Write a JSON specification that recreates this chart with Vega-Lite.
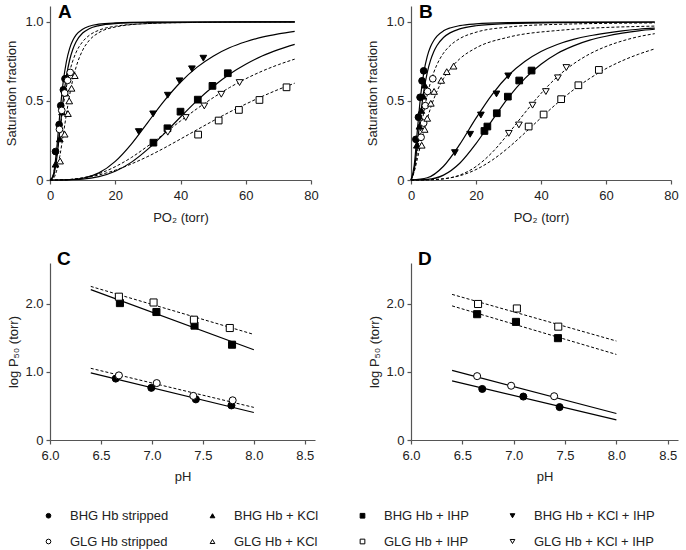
{
  "$schema": "https://vega.github.io/schema/vega-lite/v6.json",
  "padding": {"left": 5, "top": 3, "right": 5, "bottom": 0},
  "background": "white",
  "datasets": {
    "curves": [
      {"p":"A","s":"BHG Hb stripped","x":0,"y":0},{"p":"A","s":"BHG Hb stripped","x":1,"y":0.031},{"p":"A","s":"BHG Hb stripped","x":2,"y":0.185},{"p":"A","s":"BHG Hb stripped","x":3,"y":0.413},{"p":"A","s":"BHG Hb stripped","x":4,"y":0.612},{"p":"A","s":"BHG Hb stripped","x":5,"y":0.746},{"p":"A","s":"BHG Hb stripped","x":6,"y":0.831},{"p":"A","s":"BHG Hb stripped","x":7,"y":0.883},{"p":"A","s":"BHG Hb stripped","x":8,"y":0.917},{"p":"A","s":"BHG Hb stripped","x":10,"y":0.953},{"p":"A","s":"BHG Hb stripped","x":12,"y":0.972},{"p":"A","s":"BHG Hb stripped","x":15,"y":0.985},{"p":"A","s":"BHG Hb stripped","x":20,"y":0.993},{"p":"A","s":"BHG Hb stripped","x":30,"y":0.998},{"p":"A","s":"BHG Hb stripped","x":45,"y":0.999},{"p":"A","s":"BHG Hb stripped","x":75,"y":1.0},
      {"p":"A","s":"BHG Hb + KCl","x":0,"y":0},{"p":"A","s":"BHG Hb + KCl","x":1,"y":0.020},{"p":"A","s":"BHG Hb + KCl","x":2,"y":0.126},{"p":"A","s":"BHG Hb + KCl","x":3,"y":0.309},{"p":"A","s":"BHG Hb + KCl","x":4,"y":0.5},{"p":"A","s":"BHG Hb + KCl","x":5,"y":0.651},{"p":"A","s":"BHG Hb + KCl","x":6,"y":0.757},{"p":"A","s":"BHG Hb + KCl","x":7,"y":0.827},{"p":"A","s":"BHG Hb + KCl","x":8,"y":0.874},{"p":"A","s":"BHG Hb + KCl","x":10,"y":0.929},{"p":"A","s":"BHG Hb + KCl","x":12,"y":0.956},{"p":"A","s":"BHG Hb + KCl","x":15,"y":0.976},{"p":"A","s":"BHG Hb + KCl","x":20,"y":0.989},{"p":"A","s":"BHG Hb + KCl","x":30,"y":0.996},{"p":"A","s":"BHG Hb + KCl","x":45,"y":0.999},{"p":"A","s":"BHG Hb + KCl","x":75,"y":1.0},
      {"p":"A","s":"GLG Hb stripped","x":0,"y":0},{"p":"A","s":"GLG Hb stripped","x":1,"y":0.034},{"p":"A","s":"GLG Hb stripped","x":2,"y":0.147},{"p":"A","s":"GLG Hb stripped","x":3,"y":0.304},{"p":"A","s":"GLG Hb stripped","x":4,"y":0.459},{"p":"A","s":"GLG Hb stripped","x":5,"y":0.586},{"p":"A","s":"GLG Hb stripped","x":6,"y":0.683},{"p":"A","s":"GLG Hb stripped","x":7,"y":0.754},{"p":"A","s":"GLG Hb stripped","x":8,"y":0.807},{"p":"A","s":"GLG Hb stripped","x":10,"y":0.874},{"p":"A","s":"GLG Hb stripped","x":12,"y":0.914},{"p":"A","s":"GLG Hb stripped","x":15,"y":0.947},{"p":"A","s":"GLG Hb stripped","x":20,"y":0.972},{"p":"A","s":"GLG Hb stripped","x":30,"y":0.989},{"p":"A","s":"GLG Hb stripped","x":45,"y":0.996},{"p":"A","s":"GLG Hb stripped","x":75,"y":0.999},
      {"p":"A","s":"GLG Hb + KCl","x":0,"y":0},{"p":"A","s":"GLG Hb + KCl","x":1,"y":0.009},{"p":"A","s":"GLG Hb + KCl","x":2,"y":0.056},{"p":"A","s":"GLG Hb + KCl","x":3,"y":0.150},{"p":"A","s":"GLG Hb + KCl","x":4,"y":0.278},{"p":"A","s":"GLG Hb + KCl","x":5,"y":0.412},{"p":"A","s":"GLG Hb + KCl","x":6,"y":0.535},{"p":"A","s":"GLG Hb + KCl","x":7,"y":0.635},{"p":"A","s":"GLG Hb + KCl","x":8,"y":0.714},{"p":"A","s":"GLG Hb + KCl","x":10,"y":0.820},{"p":"A","s":"GLG Hb + KCl","x":12,"y":0.882},{"p":"A","s":"GLG Hb + KCl","x":15,"y":0.932},{"p":"A","s":"GLG Hb + KCl","x":20,"y":0.967},{"p":"A","s":"GLG Hb + KCl","x":30,"y":0.989},{"p":"A","s":"GLG Hb + KCl","x":45,"y":0.996},{"p":"A","s":"GLG Hb + KCl","x":75,"y":0.999},
      {"p":"A","s":"BHG Hb + KCl + IHP","x":0,"y":0},{"p":"A","s":"BHG Hb + KCl + IHP","x":5,"y":0.001},{"p":"A","s":"BHG Hb + KCl + IHP","x":10,"y":0.011},{"p":"A","s":"BHG Hb + KCl + IHP","x":15,"y":0.045},{"p":"A","s":"BHG Hb + KCl + IHP","x":20,"y":0.118},{"p":"A","s":"BHG Hb + KCl + IHP","x":25,"y":0.229},{"p":"A","s":"BHG Hb + KCl + IHP","x":30,"y":0.365},{"p":"A","s":"BHG Hb + KCl + IHP","x":35,"y":0.5},{"p":"A","s":"BHG Hb + KCl + IHP","x":40,"y":0.618},{"p":"A","s":"BHG Hb + KCl + IHP","x":45,"y":0.712},{"p":"A","s":"BHG Hb + KCl + IHP","x":50,"y":0.783},{"p":"A","s":"BHG Hb + KCl + IHP","x":55,"y":0.836},{"p":"A","s":"BHG Hb + KCl + IHP","x":60,"y":0.874},{"p":"A","s":"BHG Hb + KCl + IHP","x":65,"y":0.903},{"p":"A","s":"BHG Hb + KCl + IHP","x":70,"y":0.924},{"p":"A","s":"BHG Hb + KCl + IHP","x":75,"y":0.940},
      {"p":"A","s":"BHG Hb + IHP","x":0,"y":0},{"p":"A","s":"BHG Hb + IHP","x":5,"y":0.001},{"p":"A","s":"BHG Hb + IHP","x":10,"y":0.005},{"p":"A","s":"BHG Hb + IHP","x":15,"y":0.021},{"p":"A","s":"BHG Hb + IHP","x":20,"y":0.055},{"p":"A","s":"BHG Hb + IHP","x":25,"y":0.113},{"p":"A","s":"BHG Hb + IHP","x":30,"y":0.195},{"p":"A","s":"BHG Hb + IHP","x":35,"y":0.293},{"p":"A","s":"BHG Hb + IHP","x":40,"y":0.398},{"p":"A","s":"BHG Hb + IHP","x":45,"y":0.5},{"p":"A","s":"BHG Hb + IHP","x":50,"y":0.591},{"p":"A","s":"BHG Hb + IHP","x":55,"y":0.669},{"p":"A","s":"BHG Hb + IHP","x":60,"y":0.732},{"p":"A","s":"BHG Hb + IHP","x":65,"y":0.784},{"p":"A","s":"BHG Hb + IHP","x":70,"y":0.824},{"p":"A","s":"BHG Hb + IHP","x":75,"y":0.857},
      {"p":"A","s":"GLG Hb + KCl + IHP","x":0,"y":0},{"p":"A","s":"GLG Hb + KCl + IHP","x":5,"y":0.002},{"p":"A","s":"GLG Hb + KCl + IHP","x":10,"y":0.014},{"p":"A","s":"GLG Hb + KCl + IHP","x":15,"y":0.040},{"p":"A","s":"GLG Hb + KCl + IHP","x":20,"y":0.084},{"p":"A","s":"GLG Hb + KCl + IHP","x":25,"y":0.143},{"p":"A","s":"GLG Hb + KCl + IHP","x":30,"y":0.215},{"p":"A","s":"GLG Hb + KCl + IHP","x":35,"y":0.293},{"p":"A","s":"GLG Hb + KCl + IHP","x":40,"y":0.373},{"p":"A","s":"GLG Hb + KCl + IHP","x":45,"y":0.450},{"p":"A","s":"GLG Hb + KCl + IHP","x":50,"y":0.520},{"p":"A","s":"GLG Hb + KCl + IHP","x":55,"y":0.584},{"p":"A","s":"GLG Hb + KCl + IHP","x":60,"y":0.640},{"p":"A","s":"GLG Hb + KCl + IHP","x":65,"y":0.688},{"p":"A","s":"GLG Hb + KCl + IHP","x":70,"y":0.729},{"p":"A","s":"GLG Hb + KCl + IHP","x":75,"y":0.764},
      {"p":"A","s":"GLG Hb + IHP","x":0,"y":0},{"p":"A","s":"GLG Hb + IHP","x":5,"y":0.002},{"p":"A","s":"GLG Hb + IHP","x":10,"y":0.012},{"p":"A","s":"GLG Hb + IHP","x":15,"y":0.032},{"p":"A","s":"GLG Hb + IHP","x":20,"y":0.062},{"p":"A","s":"GLG Hb + IHP","x":25,"y":0.102},{"p":"A","s":"GLG Hb + IHP","x":30,"y":0.149},{"p":"A","s":"GLG Hb + IHP","x":35,"y":0.202},{"p":"A","s":"GLG Hb + IHP","x":40,"y":0.259},{"p":"A","s":"GLG Hb + IHP","x":45,"y":0.317},{"p":"A","s":"GLG Hb + IHP","x":50,"y":0.374},{"p":"A","s":"GLG Hb + IHP","x":55,"y":0.429},{"p":"A","s":"GLG Hb + IHP","x":60,"y":0.480},{"p":"A","s":"GLG Hb + IHP","x":65,"y":0.528},{"p":"A","s":"GLG Hb + IHP","x":70,"y":0.572},{"p":"A","s":"GLG Hb + IHP","x":75,"y":0.612},
      {"p":"B","s":"BHG Hb stripped","x":0,"y":0},{"p":"B","s":"BHG Hb stripped","x":1,"y":0.094},{"p":"B","s":"BHG Hb stripped","x":2,"y":0.323},{"p":"B","s":"BHG Hb stripped","x":3,"y":0.538},{"p":"B","s":"BHG Hb stripped","x":4,"y":0.687},{"p":"B","s":"BHG Hb stripped","x":5,"y":0.782},{"p":"B","s":"BHG Hb stripped","x":6,"y":0.842},{"p":"B","s":"BHG Hb stripped","x":7,"y":0.882},{"p":"B","s":"BHG Hb stripped","x":8,"y":0.910},{"p":"B","s":"BHG Hb stripped","x":10,"y":0.943},{"p":"B","s":"BHG Hb stripped","x":12,"y":0.961},{"p":"B","s":"BHG Hb stripped","x":15,"y":0.976},{"p":"B","s":"BHG Hb stripped","x":20,"y":0.987},{"p":"B","s":"BHG Hb stripped","x":30,"y":0.995},{"p":"B","s":"BHG Hb stripped","x":45,"y":0.998},{"p":"B","s":"BHG Hb stripped","x":75,"y":0.999},
      {"p":"B","s":"BHG Hb + KCl","x":0,"y":0},{"p":"B","s":"BHG Hb + KCl","x":1,"y":0.067},{"p":"B","s":"BHG Hb + KCl","x":2,"y":0.236},{"p":"B","s":"BHG Hb + KCl","x":3,"y":0.420},{"p":"B","s":"BHG Hb + KCl","x":4,"y":0.570},{"p":"B","s":"BHG Hb + KCl","x":5,"y":0.679},{"p":"B","s":"BHG Hb + KCl","x":6,"y":0.756},{"p":"B","s":"BHG Hb + KCl","x":7,"y":0.811},{"p":"B","s":"BHG Hb + KCl","x":8,"y":0.850},{"p":"B","s":"BHG Hb + KCl","x":10,"y":0.901},{"p":"B","s":"BHG Hb + KCl","x":12,"y":0.930},{"p":"B","s":"BHG Hb + KCl","x":15,"y":0.955},{"p":"B","s":"BHG Hb + KCl","x":20,"y":0.975},{"p":"B","s":"BHG Hb + KCl","x":30,"y":0.989},{"p":"B","s":"BHG Hb + KCl","x":45,"y":0.995},{"p":"B","s":"BHG Hb + KCl","x":75,"y":0.998},
      {"p":"B","s":"GLG Hb stripped","x":0,"y":0},{"p":"B","s":"GLG Hb stripped","x":1,"y":0.060},{"p":"B","s":"GLG Hb stripped","x":2,"y":0.182},{"p":"B","s":"GLG Hb stripped","x":3,"y":0.317},{"p":"B","s":"GLG Hb stripped","x":4,"y":0.437},{"p":"B","s":"GLG Hb stripped","x":5,"y":0.537},{"p":"B","s":"GLG Hb stripped","x":6,"y":0.617},{"p":"B","s":"GLG Hb stripped","x":7,"y":0.680},{"p":"B","s":"GLG Hb stripped","x":8,"y":0.730},{"p":"B","s":"GLG Hb stripped","x":10,"y":0.802},{"p":"B","s":"GLG Hb stripped","x":12,"y":0.849},{"p":"B","s":"GLG Hb stripped","x":15,"y":0.894},{"p":"B","s":"GLG Hb stripped","x":20,"y":0.934},{"p":"B","s":"GLG Hb stripped","x":30,"y":0.967},{"p":"B","s":"GLG Hb stripped","x":45,"y":0.984},{"p":"B","s":"GLG Hb stripped","x":75,"y":0.993},
      {"p":"B","s":"GLG Hb + KCl","x":0,"y":0},{"p":"B","s":"GLG Hb + KCl","x":1,"y":0.053},{"p":"B","s":"GLG Hb + KCl","x":2,"y":0.138},{"p":"B","s":"GLG Hb + KCl","x":3,"y":0.227},{"p":"B","s":"GLG Hb + KCl","x":4,"y":0.311},{"p":"B","s":"GLG Hb + KCl","x":5,"y":0.387},{"p":"B","s":"GLG Hb + KCl","x":6,"y":0.453},{"p":"B","s":"GLG Hb + KCl","x":7,"y":0.511},{"p":"B","s":"GLG Hb + KCl","x":8,"y":0.561},{"p":"B","s":"GLG Hb + KCl","x":10,"y":0.641},{"p":"B","s":"GLG Hb + KCl","x":12,"y":0.701},{"p":"B","s":"GLG Hb + KCl","x":15,"y":0.766},{"p":"B","s":"GLG Hb + KCl","x":20,"y":0.835},{"p":"B","s":"GLG Hb + KCl","x":30,"y":0.903},{"p":"B","s":"GLG Hb + KCl","x":45,"y":0.945},{"p":"B","s":"GLG Hb + KCl","x":75,"y":0.973},
      {"p":"B","s":"BHG Hb + KCl + IHP","x":0,"y":0},{"p":"B","s":"BHG Hb + KCl + IHP","x":5,"y":0.014},{"p":"B","s":"BHG Hb + KCl + IHP","x":10,"y":0.087},{"p":"B","s":"BHG Hb + KCl + IHP","x":15,"y":0.225},{"p":"B","s":"BHG Hb + KCl + IHP","x":20,"y":0.391},{"p":"B","s":"BHG Hb + KCl + IHP","x":25,"y":0.542},{"p":"B","s":"BHG Hb + KCl + IHP","x":30,"y":0.662},{"p":"B","s":"BHG Hb + KCl + IHP","x":35,"y":0.749},{"p":"B","s":"BHG Hb + KCl + IHP","x":40,"y":0.812},{"p":"B","s":"BHG Hb + KCl + IHP","x":45,"y":0.857},{"p":"B","s":"BHG Hb + KCl + IHP","x":50,"y":0.889},{"p":"B","s":"BHG Hb + KCl + IHP","x":55,"y":0.912},{"p":"B","s":"BHG Hb + KCl + IHP","x":60,"y":0.929},{"p":"B","s":"BHG Hb + KCl + IHP","x":65,"y":0.943},{"p":"B","s":"BHG Hb + KCl + IHP","x":70,"y":0.953},{"p":"B","s":"BHG Hb + KCl + IHP","x":75,"y":0.960},
      {"p":"B","s":"BHG Hb + IHP","x":0,"y":0},{"p":"B","s":"BHG Hb + IHP","x":5,"y":0.004},{"p":"B","s":"BHG Hb + IHP","x":10,"y":0.031},{"p":"B","s":"BHG Hb + IHP","x":15,"y":0.106},{"p":"B","s":"BHG Hb + IHP","x":20,"y":0.230},{"p":"B","s":"BHG Hb + IHP","x":25,"y":0.378},{"p":"B","s":"BHG Hb + IHP","x":30,"y":0.522},{"p":"B","s":"BHG Hb + IHP","x":35,"y":0.641},{"p":"B","s":"BHG Hb + IHP","x":40,"y":0.732},{"p":"B","s":"BHG Hb + IHP","x":45,"y":0.800},{"p":"B","s":"BHG Hb + IHP","x":50,"y":0.848},{"p":"B","s":"BHG Hb + IHP","x":55,"y":0.884},{"p":"B","s":"BHG Hb + IHP","x":60,"y":0.909},{"p":"B","s":"BHG Hb + IHP","x":65,"y":0.928},{"p":"B","s":"BHG Hb + IHP","x":70,"y":0.943},{"p":"B","s":"BHG Hb + IHP","x":75,"y":0.953},
      {"p":"B","s":"GLG Hb + KCl + IHP","x":0,"y":0},{"p":"B","s":"GLG Hb + KCl + IHP","x":5,"y":0.001},{"p":"B","s":"GLG Hb + KCl + IHP","x":10,"y":0.007},{"p":"B","s":"GLG Hb + KCl + IHP","x":15,"y":0.031},{"p":"B","s":"GLG Hb + KCl + IHP","x":20,"y":0.085},{"p":"B","s":"GLG Hb + KCl + IHP","x":25,"y":0.175},{"p":"B","s":"GLG Hb + KCl + IHP","x":30,"y":0.294},{"p":"B","s":"GLG Hb + KCl + IHP","x":35,"y":0.424},{"p":"B","s":"GLG Hb + KCl + IHP","x":40,"y":0.547},{"p":"B","s":"GLG Hb + KCl + IHP","x":45,"y":0.652},{"p":"B","s":"GLG Hb + KCl + IHP","x":50,"y":0.734},{"p":"B","s":"GLG Hb + KCl + IHP","x":55,"y":0.797},{"p":"B","s":"GLG Hb + KCl + IHP","x":60,"y":0.844},{"p":"B","s":"GLG Hb + KCl + IHP","x":65,"y":0.879},{"p":"B","s":"GLG Hb + KCl + IHP","x":70,"y":0.906},{"p":"B","s":"GLG Hb + KCl + IHP","x":75,"y":0.925},
      {"p":"B","s":"GLG Hb + IHP","x":0,"y":0},{"p":"B","s":"GLG Hb + IHP","x":5,"y":0.001},{"p":"B","s":"GLG Hb + IHP","x":10,"y":0.008},{"p":"B","s":"GLG Hb + IHP","x":15,"y":0.027},{"p":"B","s":"GLG Hb + IHP","x":20,"y":0.066},{"p":"B","s":"GLG Hb + IHP","x":25,"y":0.126},{"p":"B","s":"GLG Hb + IHP","x":30,"y":0.205},{"p":"B","s":"GLG Hb + IHP","x":35,"y":0.297},{"p":"B","s":"GLG Hb + IHP","x":40,"y":0.393},{"p":"B","s":"GLG Hb + IHP","x":45,"y":0.486},{"p":"B","s":"GLG Hb + IHP","x":50,"y":0.570},{"p":"B","s":"GLG Hb + IHP","x":55,"y":0.642},{"p":"B","s":"GLG Hb + IHP","x":60,"y":0.704},{"p":"B","s":"GLG Hb + IHP","x":65,"y":0.754},{"p":"B","s":"GLG Hb + IHP","x":70,"y":0.795},{"p":"B","s":"GLG Hb + IHP","x":75,"y":0.829}
    ],
    "fits": [
      {"p":"C","s":"BHG Hb + IHP","x":6.4,"y":2.209},{"p":"C","s":"BHG Hb + IHP","x":8.0,"y":1.325},
      {"p":"C","s":"GLG Hb + IHP","x":6.4,"y":2.256},{"p":"C","s":"GLG Hb + IHP","x":8.0,"y":1.551},
      {"p":"C","s":"BHG Hb stripped","x":6.4,"y":0.987},{"p":"C","s":"BHG Hb stripped","x":8.0,"y":0.404},
      {"p":"C","s":"GLG Hb stripped","x":6.4,"y":1.053},{"p":"C","s":"GLG Hb stripped","x":8.0,"y":0.479},
      {"p":"D","s":"GLG Hb + IHP","x":6.4,"y":2.139},{"p":"D","s":"GLG Hb + IHP","x":8.0,"y":1.454},
      {"p":"D","s":"BHG Hb + IHP","x":6.4,"y":1.97},{"p":"D","s":"BHG Hb + IHP","x":8.0,"y":1.257},
      {"p":"D","s":"GLG Hb stripped","x":6.4,"y":1.0225},{"p":"D","s":"GLG Hb stripped","x":8.0,"y":0.389},
      {"p":"D","s":"BHG Hb stripped","x":6.4,"y":0.868},{"p":"D","s":"BHG Hb stripped","x":8.0,"y":0.295}
    ],
    "pts": [
      {"p":"A","s":"BHG Hb stripped","x":1.7,"y":0.18},{"p":"A","s":"BHG Hb stripped","x":2.8,"y":0.35},{"p":"A","s":"BHG Hb stripped","x":3.3,"y":0.47},{"p":"A","s":"BHG Hb stripped","x":4.1,"y":0.57},{"p":"A","s":"BHG Hb stripped","x":4.6,"y":0.64},
      {"p":"A","s":"BHG Hb + KCl","x":1.7,"y":0.10},{"p":"A","s":"BHG Hb + KCl","x":3.0,"y":0.26},{"p":"A","s":"BHG Hb + KCl","x":3.7,"y":0.43},{"p":"A","s":"BHG Hb + KCl","x":4.7,"y":0.55},{"p":"A","s":"BHG Hb + KCl","x":6.0,"y":0.68},
      {"p":"A","s":"GLG Hb stripped","x":2.9,"y":0.32},{"p":"A","s":"GLG Hb stripped","x":3.6,"y":0.44},{"p":"A","s":"GLG Hb stripped","x":4.5,"y":0.55},{"p":"A","s":"GLG Hb stripped","x":5.4,"y":0.63},{"p":"A","s":"GLG Hb stripped","x":6.2,"y":0.68},
      {"p":"A","s":"GLG Hb + KCl","x":3.1,"y":0.12},{"p":"A","s":"GLG Hb + KCl","x":4.5,"y":0.29},{"p":"A","s":"GLG Hb + KCl","x":5.5,"y":0.42},{"p":"A","s":"GLG Hb + KCl","x":5.9,"y":0.5},{"p":"A","s":"GLG Hb + KCl","x":6.6,"y":0.58},{"p":"A","s":"GLG Hb + KCl","x":7.6,"y":0.66},
      {"p":"A","s":"BHG Hb + IHP","x":31.7,"y":0.236},{"p":"A","s":"BHG Hb + IHP","x":36.0,"y":0.327},{"p":"A","s":"BHG Hb + IHP","x":40.0,"y":0.432},{"p":"A","s":"BHG Hb + IHP","x":45.3,"y":0.508},{"p":"A","s":"BHG Hb + IHP","x":49.8,"y":0.595},{"p":"A","s":"BHG Hb + IHP","x":54.5,"y":0.675},
      {"p":"A","s":"BHG Hb + KCl + IHP","x":27.2,"y":0.306},{"p":"A","s":"BHG Hb + KCl + IHP","x":31.6,"y":0.418},{"p":"A","s":"BHG Hb + KCl + IHP","x":36.1,"y":0.536},{"p":"A","s":"BHG Hb + KCl + IHP","x":39.7,"y":0.627},{"p":"A","s":"BHG Hb + KCl + IHP","x":43.5,"y":0.703},{"p":"A","s":"BHG Hb + KCl + IHP","x":47.0,"y":0.770},
      {"p":"A","s":"GLG Hb + IHP","x":45.4,"y":0.287},{"p":"A","s":"GLG Hb + IHP","x":51.7,"y":0.376},{"p":"A","s":"GLG Hb + IHP","x":57.9,"y":0.443},{"p":"A","s":"GLG Hb + IHP","x":64.2,"y":0.506},{"p":"A","s":"GLG Hb + IHP","x":72.5,"y":0.586},
      {"p":"A","s":"GLG Hb + KCl + IHP","x":36.1,"y":0.302},{"p":"A","s":"GLG Hb + KCl + IHP","x":41.6,"y":0.395},{"p":"A","s":"GLG Hb + KCl + IHP","x":47.3,"y":0.468},{"p":"A","s":"GLG Hb + KCl + IHP","x":52.5,"y":0.542},{"p":"A","s":"GLG Hb + KCl + IHP","x":58.1,"y":0.616},
      {"p":"B","s":"BHG Hb stripped","x":1.5,"y":0.257},{"p":"B","s":"BHG Hb stripped","x":2.3,"y":0.397},{"p":"B","s":"BHG Hb stripped","x":2.8,"y":0.523},{"p":"B","s":"BHG Hb stripped","x":3.4,"y":0.627},{"p":"B","s":"BHG Hb stripped","x":3.9,"y":0.69},
      {"p":"B","s":"BHG Hb + KCl","x":1.8,"y":0.22},{"p":"B","s":"BHG Hb + KCl","x":2.6,"y":0.34},{"p":"B","s":"BHG Hb + KCl","x":3.2,"y":0.44},{"p":"B","s":"BHG Hb + KCl","x":3.8,"y":0.53},{"p":"B","s":"BHG Hb + KCl","x":4.2,"y":0.6},
      {"p":"B","s":"GLG Hb stripped","x":3.1,"y":0.27},{"p":"B","s":"GLG Hb stripped","x":3.9,"y":0.36},{"p":"B","s":"GLG Hb stripped","x":4.4,"y":0.47},{"p":"B","s":"GLG Hb stripped","x":5.1,"y":0.56},{"p":"B","s":"GLG Hb stripped","x":6.7,"y":0.64},
      {"p":"B","s":"GLG Hb + KCl","x":3.3,"y":0.22},{"p":"B","s":"GLG Hb + KCl","x":4.2,"y":0.32},{"p":"B","s":"GLG Hb + KCl","x":5.0,"y":0.39},{"p":"B","s":"GLG Hb + KCl","x":6.1,"y":0.485},{"p":"B","s":"GLG Hb + KCl","x":7.1,"y":0.56},{"p":"B","s":"GLG Hb + KCl","x":9.3,"y":0.63},{"p":"B","s":"GLG Hb + KCl","x":11.0,"y":0.685},{"p":"B","s":"GLG Hb + KCl","x":13.1,"y":0.72},
      {"p":"B","s":"BHG Hb + IHP","x":22.6,"y":0.31},{"p":"B","s":"BHG Hb + IHP","x":23.5,"y":0.338},{"p":"B","s":"BHG Hb + IHP","x":26.4,"y":0.422},{"p":"B","s":"BHG Hb + IHP","x":29.8,"y":0.527},{"p":"B","s":"BHG Hb + IHP","x":33.3,"y":0.629},{"p":"B","s":"BHG Hb + IHP","x":37.1,"y":0.692},
      {"p":"B","s":"BHG Hb + KCl + IHP","x":13.5,"y":0.173},{"p":"B","s":"BHG Hb + KCl + IHP","x":18.2,"y":0.289},{"p":"B","s":"BHG Hb + KCl + IHP","x":21.5,"y":0.411},{"p":"B","s":"BHG Hb + KCl + IHP","x":26.3,"y":0.544},{"p":"B","s":"BHG Hb + KCl + IHP","x":29.9,"y":0.658},
      {"p":"B","s":"GLG Hb + IHP","x":36.2,"y":0.338},{"p":"B","s":"GLG Hb + IHP","x":40.8,"y":0.414},{"p":"B","s":"GLG Hb + IHP","x":46.2,"y":0.511},{"p":"B","s":"GLG Hb + IHP","x":51.5,"y":0.599},{"p":"B","s":"GLG Hb + IHP","x":57.8,"y":0.696},
      {"p":"B","s":"GLG Hb + KCl + IHP","x":30.1,"y":0.295},{"p":"B","s":"GLG Hb + KCl + IHP","x":33.2,"y":0.348},{"p":"B","s":"GLG Hb + KCl + IHP","x":37.4,"y":0.473},{"p":"B","s":"GLG Hb + KCl + IHP","x":41.5,"y":0.559},{"p":"B","s":"GLG Hb + KCl + IHP","x":45.2,"y":0.646},{"p":"B","s":"GLG Hb + KCl + IHP","x":47.8,"y":0.711},
      {"p":"C","s":"BHG Hb + IHP","x":6.686,"y":2.011},{"p":"C","s":"BHG Hb + IHP","x":7.044,"y":1.88},{"p":"C","s":"BHG Hb + IHP","x":7.418,"y":1.68},{"p":"C","s":"BHG Hb + IHP","x":7.786,"y":1.40},
      {"p":"C","s":"GLG Hb + IHP","x":6.676,"y":2.105},{"p":"C","s":"GLG Hb + IHP","x":7.016,"y":2.02},{"p":"C","s":"GLG Hb + IHP","x":7.412,"y":1.767},{"p":"C","s":"GLG Hb + IHP","x":7.764,"y":1.645},
      {"p":"C","s":"BHG Hb stripped","x":6.645,"y":0.902},{"p":"C","s":"BHG Hb stripped","x":6.994,"y":0.766},{"p":"C","s":"BHG Hb stripped","x":7.431,"y":0.597},{"p":"C","s":"BHG Hb stripped","x":7.78,"y":0.508},
      {"p":"C","s":"GLG Hb stripped","x":6.676,"y":0.949},{"p":"C","s":"GLG Hb stripped","x":7.047,"y":0.836},{"p":"C","s":"GLG Hb stripped","x":7.406,"y":0.648},{"p":"C","s":"GLG Hb stripped","x":7.792,"y":0.583},
      {"p":"D","s":"GLG Hb + IHP","x":6.653,"y":1.998},{"p":"D","s":"GLG Hb + IHP","x":7.031,"y":1.932},{"p":"D","s":"GLG Hb + IHP","x":7.434,"y":1.665},
      {"p":"D","s":"BHG Hb + IHP","x":6.644,"y":1.848},{"p":"D","s":"BHG Hb + IHP","x":7.022,"y":1.735},{"p":"D","s":"BHG Hb + IHP","x":7.431,"y":1.496},
      {"p":"D","s":"GLG Hb stripped","x":6.644,"y":0.938},{"p":"D","s":"GLG Hb stripped","x":6.975,"y":0.797},{"p":"D","s":"GLG Hb stripped","x":7.394,"y":0.643},
      {"p":"D","s":"BHG Hb stripped","x":6.694,"y":0.75},{"p":"D","s":"BHG Hb stripped","x":7.094,"y":0.638},{"p":"D","s":"BHG Hb stripped","x":7.447,"y":0.483}
    ]
  },
  "config": {
    "font": "Liberation Sans",
    "view": {"stroke": null},
    "axis": {"grid": false, "domainColor": "#555", "tickColor": "#555", "domainWidth": 1.2, "tickWidth": 1.2, "tickSize": 4, "labelColor": "#222", "titleColor": "#222", "labelFont": "Liberation Sans", "titleFont": "Liberation Sans", "labelFontSize": 13, "titleFontSize": 13, "titleFontWeight": "normal", "labelFlush": false, "labelOverlap": false},
    "axisX": {"labelPadding": 5, "titlePadding": 9},
    "axisY": {"labelPadding": 3},
    "legend": {"orient": "bottom", "direction": "horizontal", "columns": 4, "columnPadding": 39, "rowPadding": 12, "padding": 0, "symbolSize": 22, "symbolOffset": -8, "symbolStrokeWidth": 1, "labelFont": "Liberation Sans", "labelFontSize": 13, "labelColor": "#222", "labelOffset": 15, "offset": 26, "labelLimit": 300},
    "title": {"font": "Liberation Sans", "fontSize": 19, "fontWeight": "bold", "anchor": "start", "frame": "group", "color": "black", "baseline": "top", "offset": 0}
  },
  "bounds": "flush",
  "columns": 2,
  "spacing": {"row": 83, "column": 96},
  "concat": [
    {
      "width": 261, "height": 174,
      "title": {"text": "A", "dx": 8, "dy": 20},
      "layer": [
        {"data": {"name": "curves"}, "transform": [{"filter": "datum.p == 'A' && indexof(datum.s, 'BHG') == 0"}],
         "mark": {"type": "line", "interpolate": "monotone", "color": "black", "strokeWidth": 1.2},
         "encoding": {
           "x": {"field": "x", "type": "quantitative", "scale": {"domain": [0, 80]}, "axis": {"values": [0, 20, 40, 60, 80], "title": "PO₂ (torr)"}},
           "y": {"field": "y", "type": "quantitative", "scale": {"domain": [0, 1.1]}, "axis": {"values": [0, 0.5, 1], "labelExpr": "datum.value == 0 ? '0' : format(datum.value, '.1f')", "title": "Saturation fraction", "titlePadding": 6}},
           "detail": {"field": "s"}}},
        {"data": {"name": "curves"}, "transform": [{"filter": "datum.p == 'A' && indexof(datum.s, 'GLG') == 0"}],
         "mark": {"type": "line", "interpolate": "monotone", "color": "black", "strokeWidth": 1, "strokeDash": [3, 2]},
         "encoding": {"x": {"field": "x", "type": "quantitative"}, "y": {"field": "y", "type": "quantitative"}, "detail": {"field": "s"}}},
        {"data": {"name": "pts"}, "transform": [{"filter": "datum.p == 'A'"}],
         "mark": {"type": "point", "filled": true, "strokeWidth": 1, "size": 45, "opacity": 1},
         "encoding": {"x": {"field": "x", "type": "quantitative"}, "y": {"field": "y", "type": "quantitative"},
           "shape": {"field": "s", "type": "nominal", "title": null, "scale": {"domain": ["BHG Hb stripped", "BHG Hb + KCl", "BHG Hb + IHP", "BHG Hb + KCl + IHP", "GLG Hb stripped", "GLG Hb + KCl", "GLG Hb + IHP", "GLG Hb + KCl + IHP"], "range": ["circle", "triangle-up", "square", "triangle-down", "circle", "triangle-up", "square", "triangle-down"]}},
           "fill": {"field": "s", "type": "nominal", "title": null, "scale": {"domain": ["BHG Hb stripped", "BHG Hb + KCl", "BHG Hb + IHP", "BHG Hb + KCl + IHP", "GLG Hb stripped", "GLG Hb + KCl", "GLG Hb + IHP", "GLG Hb + KCl + IHP"], "range": ["black", "black", "black", "black", "white", "white", "white", "white"]}},
           "stroke": {"field": "s", "type": "nominal", "title": null, "scale": {"domain": ["BHG Hb stripped", "BHG Hb + KCl", "BHG Hb + IHP", "BHG Hb + KCl + IHP", "GLG Hb stripped", "GLG Hb + KCl", "GLG Hb + IHP", "GLG Hb + KCl + IHP"], "range": ["black", "black", "black", "black", "black", "black", "black", "black"]}}}}
      ]
    },
    {
      "width": 260, "height": 174,
      "title": {"text": "B", "dx": 8, "dy": 20},
      "layer": [
        {"data": {"name": "curves"}, "transform": [{"filter": "datum.p == 'B' && indexof(datum.s, 'BHG') == 0"}],
         "mark": {"type": "line", "interpolate": "monotone", "color": "black", "strokeWidth": 1.2},
         "encoding": {
           "x": {"field": "x", "type": "quantitative", "scale": {"domain": [0, 80]}, "axis": {"values": [0, 20, 40, 60, 80], "title": "PO₂ (torr)"}},
           "y": {"field": "y", "type": "quantitative", "scale": {"domain": [0, 1.1]}, "axis": {"values": [0, 0.5, 1], "labelExpr": "datum.value == 0 ? '0' : format(datum.value, '.1f')", "title": "Saturation fraction", "titlePadding": 6}},
           "detail": {"field": "s"}}},
        {"data": {"name": "curves"}, "transform": [{"filter": "datum.p == 'B' && indexof(datum.s, 'GLG') == 0"}],
         "mark": {"type": "line", "interpolate": "monotone", "color": "black", "strokeWidth": 1, "strokeDash": [3, 2]},
         "encoding": {"x": {"field": "x", "type": "quantitative"}, "y": {"field": "y", "type": "quantitative"}, "detail": {"field": "s"}}},
        {"data": {"name": "pts"}, "transform": [{"filter": "datum.p == 'B'"}],
         "mark": {"type": "point", "filled": true, "strokeWidth": 1, "size": 45, "opacity": 1},
         "encoding": {"x": {"field": "x", "type": "quantitative"}, "y": {"field": "y", "type": "quantitative"},
           "shape": {"field": "s", "type": "nominal", "title": null},
           "fill": {"field": "s", "type": "nominal", "title": null},
           "stroke": {"field": "s", "type": "nominal", "title": null}}}
      ]
    },
    {
      "width": 265, "height": 177,
      "title": {"text": "C", "dx": 7, "dy": 10},
      "layer": [
        {"data": {"name": "fits"}, "transform": [{"filter": "datum.p == 'C' && indexof(datum.s, 'BHG') == 0"}],
         "mark": {"type": "line", "color": "black", "strokeWidth": 1.2},
         "encoding": {
           "x": {"field": "x", "type": "quantitative", "scale": {"domain": [6, 8.5]}, "axis": {"values": [6, 6.5, 7, 7.5, 8, 8.5], "format": ".1f", "title": "pH", "titlePadding": 8}},
           "y": {"field": "y", "type": "quantitative", "scale": {"domain": [0, 2.5]}, "axis": {"values": [0, 0.5, 1, 1.5, 2, 2.5], "labelExpr": "datum.value == 0 ? '0' : format(datum.value, '.1f')", "title": "log P₅₀ (torr)", "titlePadding": 4}},
           "detail": {"field": "s"}}},
        {"data": {"name": "fits"}, "transform": [{"filter": "datum.p == 'C' && indexof(datum.s, 'GLG') == 0"}],
         "mark": {"type": "line", "color": "black", "strokeWidth": 1, "strokeDash": [3, 2]},
         "encoding": {"x": {"field": "x", "type": "quantitative"}, "y": {"field": "y", "type": "quantitative"}, "detail": {"field": "s"}}},
        {"data": {"name": "pts"}, "transform": [{"filter": "datum.p == 'C'"}],
         "mark": {"type": "point", "filled": true, "strokeWidth": 1, "size": 50, "opacity": 1},
         "encoding": {"x": {"field": "x", "type": "quantitative"}, "y": {"field": "y", "type": "quantitative"},
           "shape": {"field": "s", "type": "nominal", "title": null},
           "fill": {"field": "s", "type": "nominal", "title": null},
           "stroke": {"field": "s", "type": "nominal", "title": null}}}
      ]
    },
    {
      "width": 267, "height": 177,
      "title": {"text": "D", "dx": 7, "dy": 10},
      "layer": [
        {"data": {"name": "fits"}, "transform": [{"filter": "datum.p == 'D' && indexof(datum.s, 'stripped') >= 0"}],
         "mark": {"type": "line", "color": "black", "strokeWidth": 1.2},
         "encoding": {
           "x": {"field": "x", "type": "quantitative", "scale": {"domain": [6, 8.5]}, "axis": {"values": [6, 6.5, 7, 7.5, 8, 8.5], "format": ".1f", "title": "pH", "titlePadding": 8}},
           "y": {"field": "y", "type": "quantitative", "scale": {"domain": [0, 2.5]}, "axis": {"values": [0, 0.5, 1, 1.5, 2, 2.5], "labelExpr": "datum.value == 0 ? '0' : format(datum.value, '.1f')", "title": "log P₅₀ (torr)", "titlePadding": 4}},
           "detail": {"field": "s"}}},
        {"data": {"name": "fits"}, "transform": [{"filter": "datum.p == 'D' && indexof(datum.s, 'IHP') >= 0"}],
         "mark": {"type": "line", "color": "black", "strokeWidth": 1, "strokeDash": [3, 2]},
         "encoding": {"x": {"field": "x", "type": "quantitative"}, "y": {"field": "y", "type": "quantitative"}, "detail": {"field": "s"}}},
        {"data": {"name": "pts"}, "transform": [{"filter": "datum.p == 'D'"}],
         "mark": {"type": "point", "filled": true, "strokeWidth": 1, "size": 50, "opacity": 1},
         "encoding": {"x": {"field": "x", "type": "quantitative"}, "y": {"field": "y", "type": "quantitative"},
           "shape": {"field": "s", "type": "nominal", "title": null},
           "fill": {"field": "s", "type": "nominal", "title": null},
           "stroke": {"field": "s", "type": "nominal", "title": null}}}
      ]
    }
  ]
}
